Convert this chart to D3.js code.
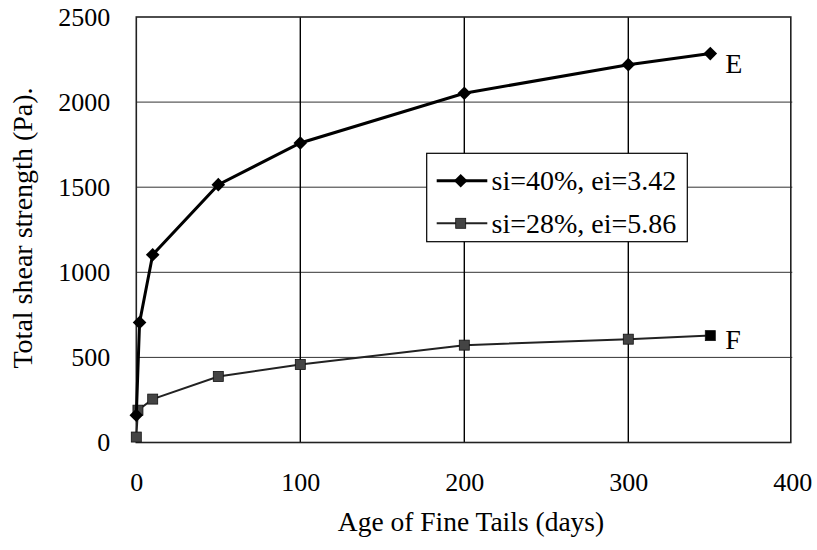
<!DOCTYPE html>
<html><head><meta charset="utf-8">
<script src="https://cdn.jsdelivr.net/npm/d3@7"></script>
<style>body{margin:0;background:#fff}svg{display:block}text{font-family:"Liberation Serif","Times New Roman",serif !important;fill:#000}</style>
</head><body><svg id="c" width="817" height="550"></svg>
<script>
const daysE = [0, 2, 10, 50, 100, 200, 300, 350];
const daysF = [0, 1, 10, 50, 100, 200, 300, 350];
const seriesE = [160, 705, 1103, 1515, 1760, 2052, 2220, 2285];
const seriesF = [32, 190, 255, 388, 458, 572, 607, 628];
const seriesNames = ["si=40%, ei=3.42", "si=28%, ei=5.86"];
const endLabels = ["E", "F"];
const xTicks = [0, 100, 200, 300, 400];
const yTicks = [0, 500, 1000, 1500, 2000, 2500];
const xTitle = "Age of Fine Tails (days)";
const yTitle = "Total shear strength (Pa).";

const svg = d3.select("#c");
const L = 136.3, R = 792.3, T = 17, B = 442.5;
const x = d3.scaleLinear().domain([0, 400]).range([L, R]);
const y = d3.scaleLinear().domain([0, 2500]).range([B, T]);
const serif = '"Liberation Serif","Times New Roman",serif';

// gridlines
svg.append("g").selectAll("line").data(yTicks.filter(d => d > 0 && d < 2500)).join("line")
  .attr("x1", L).attr("x2", x(400)).attr("y1", d => y(d)).attr("y2", d => y(d))
  .attr("stroke", "#333").attr("stroke-width", 1);
svg.append("g").selectAll("line").data(xTicks.filter(d => d > 0 && d < 400)).join("line")
  .attr("x1", d => x(d)).attr("x2", d => x(d)).attr("y1", T).attr("y2", B)
  .attr("stroke", "#000").attr("stroke-width", 1.4);
// border
svg.append("rect").attr("x", L).attr("y", T).attr("width", x(400) - L - 1.5).attr("height", B - T)
  .attr("fill", "none").attr("stroke", "#222").attr("stroke-width", 1.6);

// axes tick labels
const xAxis = d3.axisBottom(x).tickValues(xTicks).tickFormat(d3.format("d")).tickSize(0).tickPadding(30);
const gx = svg.append("g").attr("transform", `translate(0,${B})`).call(xAxis)
  .attr("font-family", serif).attr("font-size", 26);
gx.select(".domain").remove();
gx.selectAll("text").style("font-family", serif).style("font-size", "26px").attr("fill", "#000");
const yAxis = d3.axisLeft(y).tickValues(yTicks).tickFormat(d3.format("d")).tickSize(0).tickPadding(26);
const gy = svg.append("g").attr("transform", `translate(${L},0)`).call(yAxis)
  .attr("font-family", serif).attr("font-size", 26);
gy.select(".domain").remove();
gy.selectAll("text").style("font-family", serif).style("font-size", "26px").attr("fill", "#000");

// titles
svg.append("text").attr("x", 471).attr("y", 531).attr("text-anchor", "middle")
  .attr("font-size", 27.5).text(xTitle);
svg.append("text").attr("transform", "translate(32,228) rotate(-90)").attr("text-anchor", "middle")
  .attr("font-size", 28).text(yTitle);

const diamond = s => `M0,${-s}L${s},0L0,${s}L${-s},0Z`;
const line = d3.line().x(d => x(d[0])).y(d => y(d[1]));
const dataE = daysE.map((d, i) => [d, seriesE[i]]);
const dataF = daysF.map((d, i) => [d, seriesF[i]]);

// F series
svg.append("path").datum(dataF).attr("d", line).attr("fill", "none").attr("stroke", "#222").attr("stroke-width", 2);
svg.append("g").selectAll("rect").data(dataF).join("rect")
  .attr("x", d => x(d[0]) - 5).attr("y", d => y(d[1]) - 5).attr("width", 10).attr("height", 10)
  .attr("fill", (d, i) => i === dataF.length - 1 ? "#000" : "#444").attr("stroke", "#111").attr("stroke-width", 0.8);
// E series
svg.append("path").datum(dataE).attr("d", line).attr("fill", "none").attr("stroke", "#000").attr("stroke-width", 3);
svg.append("g").selectAll("path").data(dataE).join("path")
  .attr("transform", d => `translate(${x(d[0])},${y(d[1])})`).attr("d", diamond(6.8)).attr("fill", "#000");

// end labels
svg.append("text").attr("x", x(350) + 15).attr("y", y(seriesE[7]) + 19).attr("font-size", 28).text(endLabels[0]);
svg.append("text").attr("x", x(350) + 15).attr("y", y(seriesF[7]) + 13).attr("font-size", 28).text(endLabels[1]);

// legend
const lg = svg.append("g");
lg.append("rect").attr("x", 426.7).attr("y", 153.3).attr("width", 260.6).attr("height", 88.4)
  .attr("fill", "#fff").attr("stroke", "#000").attr("stroke-width", 1.2);
const rows = [180.7, 223.3];
lg.append("line").attr("x1", 436.7).attr("x2", 487.3).attr("y1", rows[0]).attr("y2", rows[0]).attr("stroke", "#000").attr("stroke-width", 3);
lg.append("path").attr("transform", `translate(460.7,${rows[0]})`).attr("d", diamond(6.8)).attr("fill", "#000");
lg.append("line").attr("x1", 436.7).attr("x2", 487.3).attr("y1", rows[1]).attr("y2", rows[1]).attr("stroke", "#222").attr("stroke-width", 2);
lg.append("rect").attr("x", 455.7).attr("y", rows[1] - 5).attr("width", 10).attr("height", 10).attr("fill", "#444").attr("stroke", "#111").attr("stroke-width", 0.8);
seriesNames.forEach((n, i) => {
  lg.append("text").attr("x", 491.5).attr("y", rows[i] + 9.5).attr("font-size", 28).text(n);
});
</script></body></html>
